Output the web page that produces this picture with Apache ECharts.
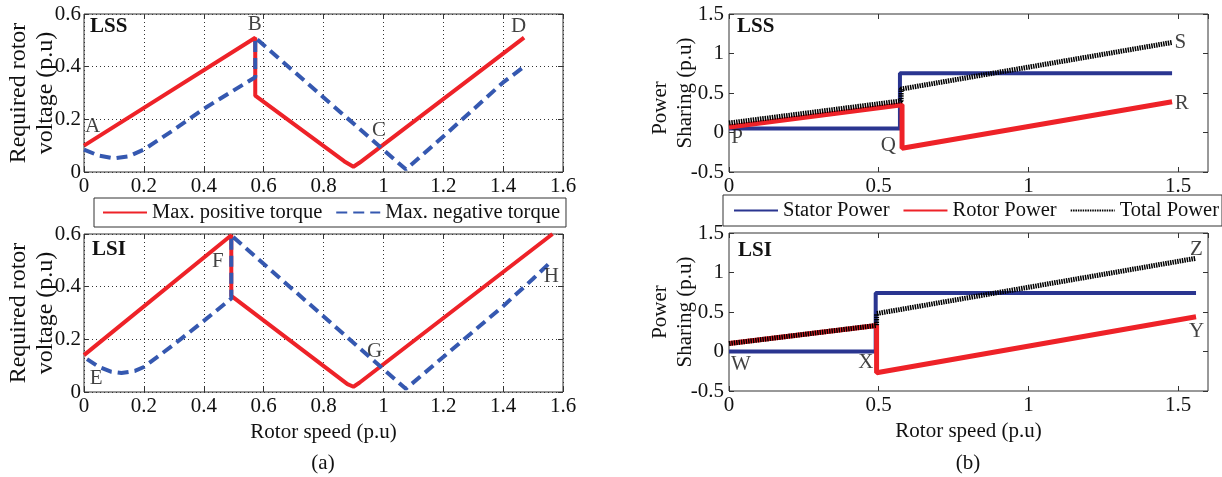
<!DOCTYPE html>
<html>
<head>
<meta charset="utf-8">
<script src="https://cdn.jsdelivr.net/npm/echarts@6/dist/echarts.min.js"></script>
<style>
  html, body { margin: 0; padding: 0; background: #fff; }
  #chart { width: 1222px; height: 477px; }
</style>
</head>
<body>
<div id="chart"></div>
<script>
// ---- Required rotor voltage (p.u) against rotor speed (p.u) ----
const lssPosTorque = [[0, 0.10], [0.572, 0.51], [0.572, 0.29], [0.87, 0.04], [0.90, 0.02], [0.92, 0.035], [1.47, 0.51]];
const lssNegTorque = [[0, 0.085], [0.05, 0.062], [0.10, 0.052], [0.15, 0.06], [0.20, 0.085], [0.30, 0.16], [0.40, 0.24],
                      [0.50, 0.31], [0.572, 0.36], [0.572, 0.51], [1.075, 0.01], [1.21, 0.145], [1.40, 0.34], [1.47, 0.40]];
const lsiPosTorque = [[0, 0.14], [0.492, 0.595], [0.492, 0.365], [0.88, 0.03], [0.90, 0.02], [0.92, 0.035], [1.565, 0.60]];
const lsiNegTorque = [[0.01, 0.125], [0.05, 0.095], [0.09, 0.077], [0.125, 0.072], [0.17, 0.08], [0.20, 0.095], [0.30, 0.18],
                      [0.40, 0.27], [0.492, 0.355], [0.492, 0.595], [1.075, 0.012], [1.40, 0.326], [1.50, 0.43], [1.56, 0.495]];

// ---- Power sharing (p.u) against rotor speed (p.u) ----
const lssStator = [[0, 0.05], [0.571, 0.05], [0.571, 0.75], [1.48, 0.75]];
const lssRotor  = [[0, 0.07], [0.578, 0.35], [0.578, -0.20], [1.48, 0.39]];
const lssTotal  = [[0, 0.12], [0.575, 0.40], [0.575, 0.55], [1.48, 1.14]];
const lsiStator = [[0, 0], [0.49, 0], [0.49, 0.74], [1.56, 0.74]];
const lsiRotor  = [[0, 0.10], [0.493, 0.33], [0.493, -0.27], [1.56, 0.44]];
const lsiTotal  = [[0, 0.10], [0.493, 0.33], [0.493, 0.48], [1.56, 1.18]];

// ---- Operating point tags [speed, value, tag] ----
const voltageTagsLSS = [[0.029, 0.171, 'A'], [0.570, 0.562, 'B'], [0.985, 0.159, 'C'], [1.452, 0.552, 'D']];
const voltageTagsLSI = [[0.041, 0.053, 'E'], [0.447, 0.497, 'F'], [0.971, 0.154, 'G'], [1.561, 0.438, 'H']];
const powerTagsLSS   = [[0.027, -0.066, 'P'], [0.532, -0.161, 'Q'], [1.512, 0.368, 'R'], [1.508, 1.143, 'S']];
const powerTagsLSI   = [[0.040, -0.169, 'W'], [0.457, -0.138, 'X'], [1.562, 0.258, 'Y'], [1.561, 1.289, 'Z']];

// ---- Axis ranges ----
const speedAxis   = { min: 0, max: 1.6, interval: 0.2 };
const voltageAxis = { min: 0, max: 0.6, interval: 0.2 };
const speedAxisB  = { min: 0, max: 1.6, interval: 0.5 };
const powerAxis   = { min: -0.5, max: 1.5, interval: 0.5 };

const seriesNames = {
  pos: 'Max. positive torque', neg: 'Max. negative torque',
  stator: 'Stator Power', rotor: 'Rotor Power', total: 'Total Power'
};

const FONT = 'Liberation Serif';
const INK = '#111';
const FRAME = '#333';
const RED = '#ee2228';
const BLUE_DASH = '#3558b0';
const NAVY = '#2a3590';

const grids = [
  { left: 84,  top: 14,  width: 479, height: 158 },
  { left: 84,  top: 234, width: 479, height: 158 },
  { left: 729, top: 14,  width: 479, height: 158 },
  { left: 729, top: 233, width: 479, height: 158 }
].map(g => Object.assign({
  show: true, borderColor: FRAME, borderWidth: 1, backgroundColor: 'transparent',
  containLabel: false, outerBoundsMode: 'none'
}, g));

const tickStyle = { show: true, inside: true, length: 5, lineStyle: { color: FRAME, width: 1 } };
const hiddenLine = { show: false, onZero: false };
const labelBase = { color: INK, fontFamily: FONT, fontSize: 21 };
const gridDots = { show: true, lineStyle: { color: '#333', width: 1, type: [1, 3] } };

const xAxes = [];
const yAxes = [];

function addAxes(gi, xr, yr, opts) {
  xAxes.push(Object.assign({
    type: 'value', gridIndex: gi, position: 'bottom',
    min: xr.min, max: xr.max, interval: xr.interval,
    axisLine: hiddenLine, axisTick: tickStyle,
    axisLabel: Object.assign({ margin: 4, showMaxLabel: opts.showMaxX }, labelBase),
    splitLine: opts.grid ? gridDots : { show: false }
  }, opts.xName ? {
    name: 'Rotor speed (p.u)', nameLocation: 'middle', nameGap: 30, nameMoveOverlap: false,
    nameTextStyle: { color: INK, fontFamily: FONT, fontSize: 21 }
  } : {}));
  xAxes.push({
    type: 'value', gridIndex: gi, position: 'top',
    min: xr.min, max: xr.max, interval: xr.interval,
    axisLine: hiddenLine, axisTick: tickStyle,
    axisLabel: { show: false }, splitLine: { show: false }
  });
  yAxes.push({
    type: 'value', gridIndex: gi, position: 'left',
    min: yr.min, max: yr.max, interval: yr.interval,
    axisLine: hiddenLine, axisTick: tickStyle,
    axisLabel: Object.assign({ margin: opts.yMargin }, labelBase),
    splitLine: opts.grid ? gridDots : { show: false },
    name: opts.yName, nameLocation: 'middle', nameGap: opts.yGap, nameRotate: 90, nameMoveOverlap: false,
    nameTextStyle: Object.assign({ color: INK, fontFamily: FONT, fontSize: opts.yNameSize, lineHeight: opts.yLine },
                                 opts.yRich ? { rich: opts.yRich } : {})
  });
  yAxes.push({
    type: 'value', gridIndex: gi, position: 'right',
    min: yr.min, max: yr.max, interval: yr.interval,
    axisLine: hiddenLine, axisTick: tickStyle,
    axisLabel: { show: false }, splitLine: { show: false }
  });
}

const voltageName = 'Required rotor\nvoltage (p.u)';
addAxes(0, speedAxis, voltageAxis, { grid: true, showMaxX: true, yMargin: 3, yName: voltageName, yGap: 25, yNameSize: 24, yLine: 27 });
addAxes(1, speedAxis, voltageAxis, { grid: true, showMaxX: true, yMargin: 3, yName: voltageName, yGap: 25, yNameSize: 24, yLine: 27, xName: true });
addAxes(2, speedAxisB, powerAxis, {
  grid: false, showMaxX: false, yMargin: 5, yGap: 31, yNameSize: 21, yLine: 25,
  yName: '{p|Power}\n{s|Sharing (p.u)}',
  yRich: {
    p: { fontFamily: FONT, fontSize: 21, lineHeight: 25, color: INK, padding: [0, 30, 0, 0] },
    s: { fontFamily: FONT, fontSize: 21, lineHeight: 25, color: INK }
  }
});
addAxes(3, speedAxisB, powerAxis, { grid: false, showMaxX: false, yMargin: 5, yName: 'Power\nSharing (p.u)', yGap: 31, yNameSize: 21, yLine: 25, xName: true });

function line(gi, name, data, style) {
  return {
    type: 'line', name, data, xAxisIndex: gi * 2, yAxisIndex: gi * 2,
    symbol: 'none', showSymbol: false, animation: false, silent: true,
    lineStyle: style, itemStyle: { color: style.color }
  };
}

function tags(gi, list) {
  return {
    type: 'scatter', xAxisIndex: gi * 2, yAxisIndex: gi * 2, symbolSize: 0, silent: true, z: 10,
    data: list.map(t => ({ value: [t[0], t[1]], name: t[2] })),
    label: { show: true, position: 'inside', formatter: '{b}', color: INK, fontFamily: FONT, fontSize: 21 }
  };
}

const redSolid  = { color: RED, width: 4 };
const blueDash  = { color: BLUE_DASH, width: 4, type: [11, 6] };
const navySolid = { color: NAVY, width: 4 };
const redPower  = { color: RED, width: 5 };
const hatched   = { color: '#000', width: 5, type: [1.5, 0.9] };

const series = [
  line(0, seriesNames.pos, lssPosTorque, redSolid),
  line(0, seriesNames.neg, lssNegTorque, blueDash),
  line(1, seriesNames.pos, lsiPosTorque, redSolid),
  line(1, seriesNames.neg, lsiNegTorque, blueDash),
  line(2, seriesNames.stator, lssStator, navySolid),
  line(2, seriesNames.rotor, lssRotor, redPower),
  line(2, seriesNames.total, lssTotal, hatched),
  line(3, seriesNames.stator, lsiStator, navySolid),
  line(3, seriesNames.rotor, lsiRotor, redPower),
  line(3, seriesNames.total, lsiTotal, hatched),
  tags(0, voltageTagsLSS), tags(1, voltageTagsLSI), tags(2, powerTagsLSS), tags(3, powerTagsLSI)
];

// Legend keys show the line only (no marker on the line sample)
const legendBase = {
  orient: 'horizontal', itemWidth: 44, itemHeight: 14, selectedMode: false,
  borderColor: FRAME, borderWidth: 1, backgroundColor: '#fff',
  itemStyle: { opacity: 0 },
  textStyle: { color: INK, fontFamily: FONT, fontSize: 20.5 }
};

function panelText(x, y, text, bold) {
  return {
    type: 'text', x, y, silent: true,
    style: {
      text, fill: INK, fontFamily: FONT, fontSize: 21, fontWeight: bold ? 'bold' : 'normal',
      align: bold ? 'left' : 'center', verticalAlign: 'middle'
    }
  };
}

const chart = echarts.init(document.getElementById('chart'), null, { renderer: 'canvas' });
chart.setOption({
  animation: false,
  backgroundColor: '#fff',
  grid: grids,
  xAxis: xAxes,
  yAxis: yAxes,
  legend: [
    Object.assign({}, legendBase, {
      data: [seriesNames.pos, seriesNames.neg], left: 94, top: 198, width: 480, itemGap: 13, padding: [4, 6, 4, 8]
    }),
    Object.assign({}, legendBase, {
      data: [seriesNames.stator, seriesNames.rotor, seriesNames.total], left: 723, top: 195, width: 520, itemGap: 13, padding: [5, 3, 5, 10]
    })
  ],
  graphic: [
    panelText(90, 27, 'LSS', true),
    panelText(92, 250, 'LSI', true),
    panelText(737, 27, 'LSS', true),
    panelText(738, 251, 'LSI', true),
    panelText(323, 463, '(a)', false),
    panelText(968, 463, '(b)', false)
  ],
  series
});
</script>
</body>
</html>
